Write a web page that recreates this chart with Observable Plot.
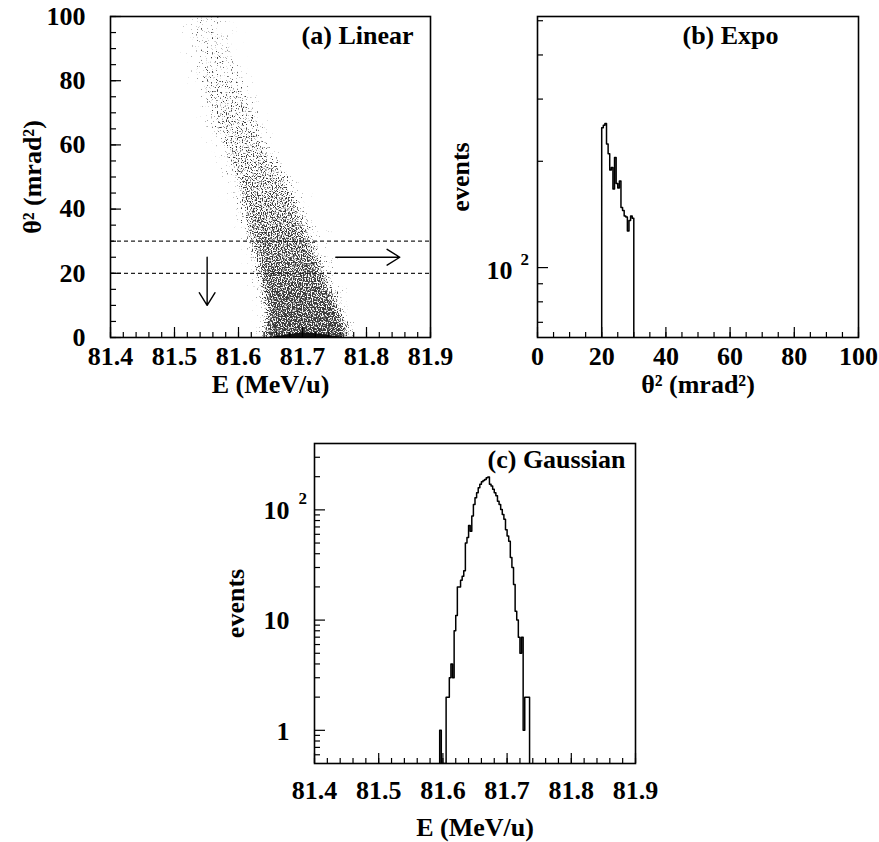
<!DOCTYPE html>
<html><head><meta charset="utf-8">
<script src="https://cdn.jsdelivr.net/npm/d3@7"></script>
<script src="https://cdn.jsdelivr.net/npm/@observablehq/plot@0.6"></script>
<style>
html,body{margin:0;padding:0;background:#fff;}
#root{position:relative;width:879px;height:842px;overflow:hidden;background:#fff;}
#root svg{position:absolute;}
</style></head><body><div id="root"></div>
<script>
// ---------------- data ----------------
// shared energy axis
const eTicks = [81.4, 81.5, 81.6, 81.7, 81.8, 81.9];
const eLabels = ["81.4", "81.5", "81.6", "81.7", "81.8", "81.9"];
// panel (a) theta^2 axis
const thetaTicks = [0, 20, 40, 60, 80, 100];
const cutLines = [20, 30];
// arrows (start/end in data units)
const arrowX1 = [81.551, 81.752];
const arrowY1 = [25, 25];
const arrowX2 = [81.551, 81.852];
const arrowY2 = [10, 25];
// panel (a) scatter band, read per theta^2 row (row lower bound, 5 mrad^2 tall)
const rowTheta = [0, 5, 10, 15, 20, 25, 30, 35, 40, 45, 50, 55, 60, 65, 70, 75, 80, 85, 90, 95];
const haloLo = [81.630, 81.630, 81.625, 81.620, 81.615, 81.605, 81.600, 81.590, 81.585, 81.575, 81.570, 81.560, 81.550, 81.545, 81.535, 81.530, 81.520, 81.515, 81.510, 81.505];
const haloHi = [81.785, 81.775, 81.770, 81.760, 81.755, 81.745, 81.740, 81.725, 81.710, 81.695, 81.680, 81.665, 81.655, 81.645, 81.635, 81.625, 81.615, 81.605, 81.600, 81.590];
const haloDen = [0.17, 0.17, 0.17, 0.16, 0.16, 0.15, 0.15, 0.14, 0.13, 0.12, 0.12, 0.11, 0.10, 0.10, 0.09, 0.09, 0.08, 0.08, 0.07, 0.07];
const coreLo = [81.642, 81.645, 81.640, 81.635, 81.630, 81.625, 81.615, 81.610, 81.605, 81.600, 81.590, 81.580, 81.570, 81.560, 81.555, 81.545, 81.540, 81.535, 81.530, 81.525];
const coreHi = [81.770, 81.760, 81.750, 81.740, 81.730, 81.720, 81.710, 81.700, 81.690, 81.680, 81.665, 81.650, 81.640, 81.630, 81.620, 81.610, 81.600, 81.590, 81.585, 81.575];
const coreDen = [0.70, 0.67, 0.65, 0.62, 0.59, 0.56, 0.53, 0.49, 0.46, 0.42, 0.39, 0.36, 0.33, 0.30, 0.28, 0.25, 0.23, 0.21, 0.19, 0.17];
// dense black core at theta^2 ~ 0
const blobE = [81.650, 81.672, 81.690, 81.705, 81.720, 81.740, 81.768];
const blobH = [0, 0.6, 1.2, 1.5, 1.2, 0.6, 0];

// panel (b): exponential-weighted theta^2 histogram, bins of 0.5 from 20 to 30
const bStart = 20, bWidth = 0.5;
const bCounts = [249, 253, 256, 224, 210, 189, 192, 167, 205, 173, 168, 176, 148, 145, 140, 139, 127, 136, 140, 138];
const bXTicks = [0, 20, 40, 60, 80, 100];
const bYMajor = [100];
const bYMinor = [70, 80, 90, 200, 300, 400, 500];

// panel (c): gaussian energy histogram, bins of 0.0025 MeV/u from 81.595
const cStart = 81.595, cWidth = 0.0025;
const cCounts = [1, 0, 0, 0, 2, 2, 3, 4, 3, 8, 11, 20, 20, 23, 25, 28, 50, 56, 72, 64,
                 88, 112, 129, 143, 159, 171, 180, 185, 189, 196, 199, 171, 165, 154, 143, 134, 120, 112, 101, 91,
                 82, 66, 58, 52, 37, 30, 21, 12, 10, 7, 5, 7, 1, 2, 2, 2];
const cYMajor = [1, 10, 100];
const cYMinor = [0.6, 0.7, 0.8, 0.9, 2, 3, 4, 5, 6, 7, 8, 9, 20, 30, 40, 50, 60, 70, 80, 90, 200, 300];

// ---------------- helpers ----------------
const FONT = "'Liberation Serif', 'Times New Roman', serif";
const T = {fontFamily: FONT, fontWeight: "bold", fontSize: 26, fill: "black"};
const root = document.getElementById("root");
function place(svg, left, top) { svg.style.left = left + "px"; svg.style.top = top + "px"; root.appendChild(svg); }
const rng = (a, b, s) => d3.range(Math.round((b - a) / s) + 1).map(i => +(a + i * s).toFixed(4));

function histOutline(start, width, counts, floor) {
  const pts = [[start, floor]];
  counts.forEach((c, i) => {
    const v = c > 0 ? c : floor;
    pts.push([start + i * width, v], [start + (i + 1) * width, v]);
  });
  pts.push([start + counts.length * width, floor]);
  return pts;
}

const style = {background: "transparent", overflow: "visible", fontFamily: FONT};

// ---------------- panel (a) ----------------
{
  const W = 440, H = 400, mL = 110, mR = 10, mT = 16, mB = 63;
  const iW = W - mL - mR, iH = H - mT - mB;
  const cells = [];
  rowTheta.forEach((t, i) => {
    const y1 = i === 0 ? -6 : t, y2 = i === rowTheta.length - 1 ? t + 11 : t + 5;
    cells.push({x1: haloLo[i], x2: haloHi[i], y1, y2, o: haloDen[i]});
    cells.push({x1: coreLo[i], x2: coreHi[i], y1, y2, o: coreDen[i]});
  });
  const blob = blobE.map((e, i) => ({e, h: blobH[i]}));
  const arrows = arrowX1.map((x, i) => ({x1: x, y1: arrowY1[i], x2: arrowX2[i], y2: arrowY2[i]}));
  const svg = Plot.plot({
    width: W, height: H, marginLeft: mL, marginRight: mR, marginTop: mT, marginBottom: mB,
    style,
    x: {domain: [81.4, 81.9], axis: null},
    y: {domain: [0, 100], axis: null},
    marks: [
      Plot.rect(cells, {x1: "x1", x2: "x2", y1: "y1", y2: "y2", fill: "black", fillOpacity: "o", clip: true}),
      Plot.areaY(blob, {x: "e", y: "h", fill: "#111", curve: "basis", clip: true}),
      Plot.ruleY(cutLines, {stroke: "#222", strokeWidth: 1.3, strokeDasharray: "4,3"}),
      Plot.arrow(arrows, {x1: "x1", y1: "y1", x2: "x2", y2: "y2", stroke: "black", strokeWidth: 1.4, headLength: 16, headAngle: 64}),
      Plot.tickX(rng(81.4, 81.9, 0.02), {x: d => d, insetTop: iH - 5, stroke: "black", strokeWidth: 1.2}),
      Plot.tickX(eTicks, {x: d => d, insetTop: iH - 10, stroke: "black", strokeWidth: 1.2}),
      Plot.tickY(rng(0, 100, 5), {y: d => d, insetRight: iW - 6, stroke: "black", strokeWidth: 1.2}),
      Plot.tickY(thetaTicks, {y: d => d, insetRight: iW - 11, stroke: "black", strokeWidth: 1.2}),
      Plot.frame({stroke: "black", strokeWidth: 1.6}),
      Plot.text(eTicks, {x: d => d, text: (d, i) => eLabels[i], frameAnchor: "bottom", dy: 19, lineAnchor: "middle", ...T}),
      Plot.text(thetaTicks, {y: d => d, text: d => String(d), frameAnchor: "left", dx: -25, textAnchor: "end", lineAnchor: "middle", ...T}),
      Plot.text(["θ² (mrad²)"], {frameAnchor: "left", dx: -78, rotate: -90, textAnchor: "middle", lineAnchor: "middle", ...T}),
      Plot.text(["E (MeV/u)"], {frameAnchor: "bottom", dy: 47, textAnchor: "middle", lineAnchor: "middle", ...T}),
      Plot.text(["(a) Linear"], {frameAnchor: "top-right", dx: -17, dy: 19, textAnchor: "end", lineAnchor: "middle", ...T})
    ]
  });
  // stipple rendering of the density cells
  const defs = d3.select(svg).insert("defs", ":first-child");
  const f = defs.append("filter").attr("id", "stip").attr("filterUnits", "userSpaceOnUse")
    .attr("x", 0).attr("y", 0).attr("width", W).attr("height", H)
    .attr("color-interpolation-filters", "sRGB");
  f.append("feGaussianBlur").attr("in", "SourceAlpha").attr("stdDeviation", 4).attr("result", "b");
  f.append("feTurbulence").attr("type", "fractalNoise").attr("baseFrequency", 0.8).attr("numOctaves", 1).attr("seed", 3).attr("result", "t");
  f.append("feColorMatrix").attr("in", "t").attr("type", "matrix")
    .attr("values", "0 0 0 0 0  0 0 0 0 0  0 0 0 0 0  2 0 0 0 -0.5").attr("result", "n");
  f.append("feComposite").attr("in", "b").attr("in2", "n").attr("operator", "arithmetic")
    .attr("k1", 0).attr("k2", 1).attr("k3", -1).attr("k4", 0).attr("result", "d");
  const ct = f.append("feComponentTransfer").attr("in", "d").attr("result", "e");
  ct.append("feFuncA").attr("type", "linear").attr("slope", 4).attr("intercept", 0);
  f.append("feFlood").attr("flood-color", "#3a3a3a").attr("result", "c");
  f.append("feComposite").attr("in", "c").attr("in2", "e").attr("operator", "in");
  const g = svg.querySelector('g[aria-label="rect"]');
  if (g) g.setAttribute("filter", "url(#stip)");
  place(svg, 0, 0);
}

// ---------------- panel (b) ----------------
{
  const W = 439, H = 400, mL = 97, mR = 21, mT = 16, mB = 63;
  const iW = W - mL - mR, iH = H - mT - mB;
  const yDom = [63.4, 514];
  const pts = histOutline(bStart, bWidth, bCounts, yDom[0]);
  const svg = Plot.plot({
    width: W, height: H, marginLeft: mL, marginRight: mR, marginTop: mT, marginBottom: mB,
    style,
    x: {domain: [0, 100], axis: null},
    y: {type: "log", domain: yDom, axis: null},
    marks: [
      Plot.line(pts, {x: d => d[0], y: d => d[1], stroke: "black", strokeWidth: 1.5, clip: true}),
      Plot.tickX(rng(0, 100, 5), {x: d => d, insetTop: iH - 5, stroke: "black", strokeWidth: 1.2}),
      Plot.tickX(bXTicks, {x: d => d, insetTop: iH - 10, stroke: "black", strokeWidth: 1.2}),
      Plot.tickY(bYMinor, {y: d => d, insetRight: iW - 6, stroke: "black", strokeWidth: 1.2}),
      Plot.tickY(bYMajor, {y: d => d, insetRight: iW - 11, stroke: "black", strokeWidth: 1.2}),
      Plot.frame({stroke: "black", strokeWidth: 1.6}),
      Plot.text(bXTicks, {x: d => d, text: d => String(d), frameAnchor: "bottom", dy: 19, lineAnchor: "middle", ...T}),
      Plot.text(bYMajor, {y: d => d, text: () => "10", frameAnchor: "left", dx: -25, dy: 3, textAnchor: "end", lineAnchor: "middle", ...T}),
      Plot.text(bYMajor, {y: d => d, text: () => "2", frameAnchor: "left", dx: -17, dy: -8, textAnchor: "start", lineAnchor: "middle", ...T, fontSize: 17}),
      Plot.text(["events"], {frameAnchor: "left", dx: -77, rotate: -90, textAnchor: "middle", lineAnchor: "middle", ...T}),
      Plot.text(["θ² (mrad²)"], {frameAnchor: "bottom", dy: 47, textAnchor: "middle", lineAnchor: "middle", ...T}),
      Plot.text(["(b) Expo"], {frameAnchor: "top-left", dx: 145, dy: 19, textAnchor: "start", lineAnchor: "middle", ...T})
    ]
  });
  place(svg, 440, 0);
}

// ---------------- panel (c) ----------------
{
  const W = 450, H = 442, mL = 114, mR = 15, mT = 43, mB = 79;
  const iW = W - mL - mR, iH = H - mT - mB;
  const yDom = [0.5, 400];
  const pts = histOutline(cStart, cWidth, cCounts, yDom[0]);
  const svg = Plot.plot({
    width: W, height: H, marginLeft: mL, marginRight: mR, marginTop: mT, marginBottom: mB,
    style,
    x: {domain: [81.4, 81.9], axis: null},
    y: {type: "log", domain: yDom, axis: null},
    marks: [
      Plot.line(pts, {x: d => d[0], y: d => d[1], stroke: "black", strokeWidth: 1.5, clip: true}),
      Plot.tickX(rng(81.4, 81.9, 0.02), {x: d => d, insetTop: iH - 5, stroke: "black", strokeWidth: 1.2}),
      Plot.tickX(eTicks, {x: d => d, insetTop: iH - 10, stroke: "black", strokeWidth: 1.2}),
      Plot.tickY(cYMinor, {y: d => d, insetRight: iW - 6, stroke: "black", strokeWidth: 1.2}),
      Plot.tickY(cYMajor, {y: d => d, insetRight: iW - 11, stroke: "black", strokeWidth: 1.2}),
      Plot.frame({stroke: "black", strokeWidth: 1.6}),
      Plot.text(eTicks, {x: d => d, text: (d, i) => eLabels[i], frameAnchor: "bottom", dy: 27, lineAnchor: "middle", ...T}),
      Plot.text(cYMajor, {y: d => d, text: d => (d === 100 ? "10" : String(d)), frameAnchor: "left", dx: -25, dy: 1, textAnchor: "end", lineAnchor: "middle", ...T}),
      Plot.text([100], {y: d => d, text: () => "2", frameAnchor: "left", dx: -16, dy: -11, textAnchor: "start", lineAnchor: "middle", ...T, fontSize: 17}),
      Plot.text(["events"], {frameAnchor: "left", dx: -79, rotate: -90, textAnchor: "middle", lineAnchor: "middle", ...T}),
      Plot.text(["E (MeV/u)"], {frameAnchor: "bottom", dy: 64, textAnchor: "middle", lineAnchor: "middle", ...T}),
      Plot.text(["(c) Gaussian"], {frameAnchor: "top-right", dx: -10, dy: 16, textAnchor: "end", lineAnchor: "middle", ...T})
    ]
  });
  place(svg, 200, 400);
}
</script></body></html>
